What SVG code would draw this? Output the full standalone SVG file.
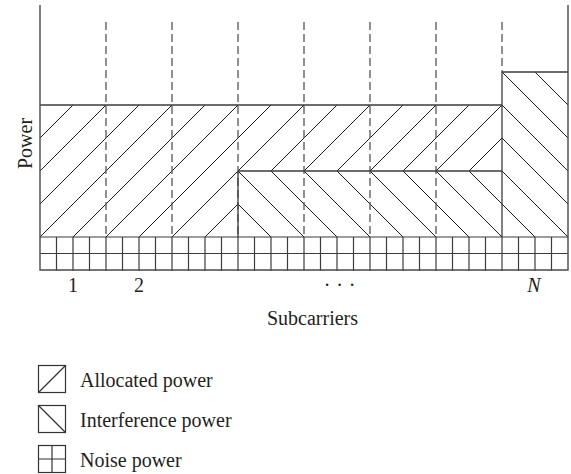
<svg xmlns="http://www.w3.org/2000/svg" width="571" height="474" viewBox="0 0 571 474">
  <style>
    .axis { stroke: #4a4a4a; stroke-width: 1.4; fill: none; }
    .edge { stroke: #3c3c3c; stroke-width: 1.3; fill: none; }
    .dash { stroke: #555; stroke-width: 1.3; stroke-dasharray: 8 4; fill: none; }
    .hatch { stroke: #1a1a1a; stroke-width: 1; fill: none; }
    .grid { stroke: #3c3c3c; stroke-width: 1.2; fill: none; }
    .lbl { font-family: "Liberation Serif", "Times New Roman", serif; font-size: 20px; fill: #231f20; }
    .box { stroke: #333; stroke-width: 1.2; fill: #fff; }
  </style>
  <defs>
    <clipPath id="clip-alloc">
      <polygon points="40,105 502,105 502,171 238,171 238,237 40,237"/>
    </clipPath>
    <clipPath id="clip-interf">
      <polygon points="238,171 502,171 502,72 568,72 568,237 238,237"/>
    </clipPath>
  </defs>

  <!-- allocated power hatching (/) -->
  <g id="allocated-power" clip-path="url(#clip-alloc)">
    <path class="hatch" d="M-105 250L85 60M-72 250L118 60M-39 250L151 60M-6 250L184 60M27 250L217 60M60 250L250 60M93 250L283 60M126 250L316 60M159 250L349 60M192 250L382 60M225 250L415 60M258 250L448 60M291 250L481 60M324 250L514 60M357 250L547 60M390 250L580 60M423 250L613 60M456 250L646 60M489 250L679 60"/>
  </g>

  <!-- interference power hatching (\) -->
  <g id="interference-power" clip-path="url(#clip-interf)">
    <path class="hatch" d="M61 60L251 250M94 60L284 250M127 60L317 250M160 60L350 250M193 60L383 250M226 60L416 250M259 60L449 250M292 60L482 250M325 60L515 250M358 60L548 250M391 60L581 250M424 60L614 250M457 60L647 250M490 60L680 250M523 60L713 250M556 60L746 250"/>
  </g>

  <!-- subcarrier separators -->
  <g id="separators">
    <path class="dash" d="M106 22V237M172 22V237M238 22V237M304 22V237M370 22V237M436 22V237M502 22V72"/>
    <path class="edge" d="M238 171V237M502 72V237"/>
  </g>

  <!-- power level outlines -->
  <g id="levels">
    <path class="edge" d="M40 105H502M238 171H502M502 72H568"/>
  </g>

  <!-- noise power grid -->
  <g id="noise-power">
    <path class="grid" d="M40 237H568M40 253.5H568"/>
    <path class="grid" d="M56.5 237V271M73 237V271M89.5 237V271M106 237V271M122.5 237V271M139 237V271M155.5 237V271M172 237V271M188.5 237V271M205 237V271M221.5 237V271M238 237V271M254.5 237V271M271 237V271M287.5 237V271M304 237V271M320.5 237V271M337 237V271M353.5 237V271M370 237V271M386.5 237V271M403 237V271M419.5 237V271M436 237V271M452.5 237V271M469 237V271M485.5 237V271M502 237V271M518.5 237V271M535 237V271M551.5 237V271"/>
  </g>

  <!-- axes -->
  <g id="axes">
    <path class="axis" d="M40 5V270H568V5"/>
  </g>

  <!-- axis labels -->
  <g id="labels">
    <text class="lbl" transform="translate(32,143.5) rotate(-90)" text-anchor="middle">Power</text>
    <text class="lbl" x="73" y="292" text-anchor="middle">1</text>
    <text class="lbl" x="139" y="292" text-anchor="middle">2</text>
    <text class="lbl" x="327 339.5 352" y="292" text-anchor="middle">···</text>
    <text class="lbl" x="534" y="292" text-anchor="middle" font-style="italic">N</text>
    <text class="lbl" x="312.5" y="325" text-anchor="middle">Subcarriers</text>
  </g>

  <!-- legend -->
  <g id="legend-allocated">
    <rect class="box" x="38.5" y="365.5" width="27" height="27"/>
    <path class="box" d="M38.5 392.5L65.5 365.5"/>
    <text class="lbl" x="80" y="387">Allocated power</text>
  </g>
  <g id="legend-interference">
    <rect class="box" x="38.5" y="405.5" width="27" height="27"/>
    <path class="box" d="M38.5 405.5L65.5 432.5"/>
    <text class="lbl" x="80" y="427">Interference power</text>
  </g>
  <g id="legend-noise">
    <rect class="box" x="38.5" y="445.5" width="27" height="27"/>
    <path class="box" d="M52 445.5V472.5M38.5 459H65.5"/>
    <text class="lbl" x="80" y="467">Noise power</text>
  </g>
</svg>
